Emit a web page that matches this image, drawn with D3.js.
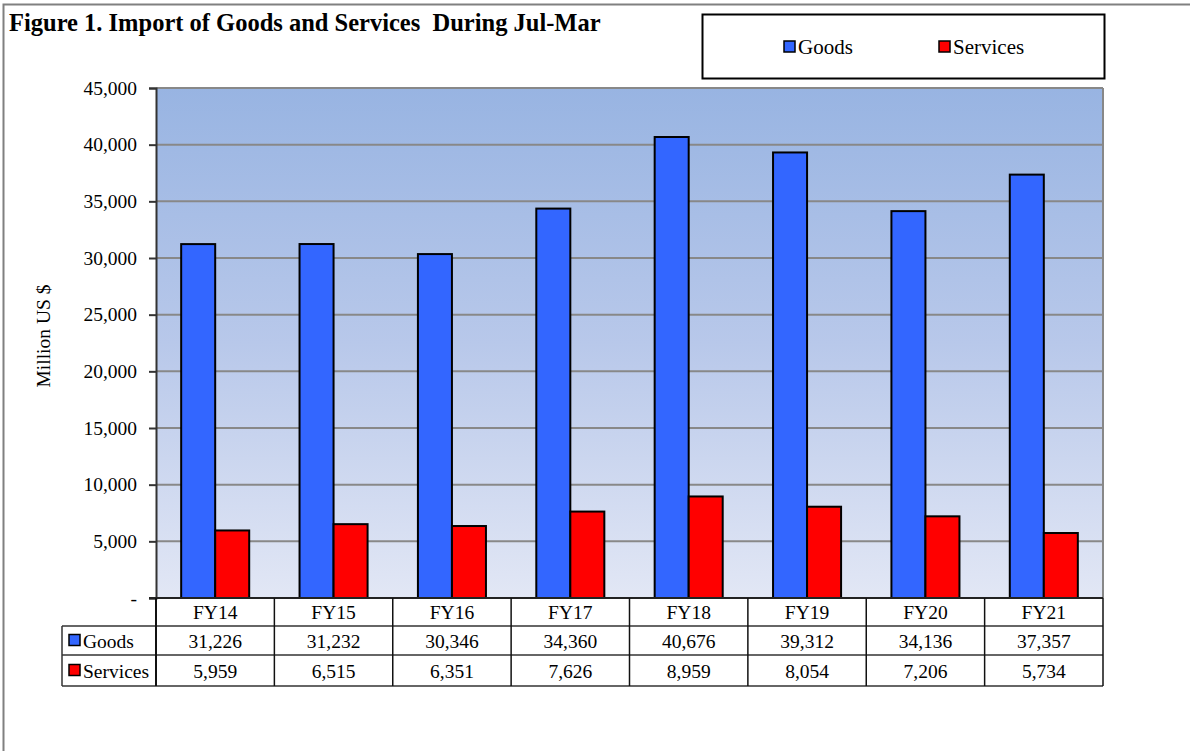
<!doctype html>
<html>
  <head>
    <meta charset="utf-8">
    <script src="https://d3js.org/d3.v7.min.js"></script>
    <style>
      body { margin: 0; background: #fff; }
      svg text { font-family: "Liberation Serif", "DejaVu Serif", serif !important; }
    </style>
  </head>
  <body>
    <script>
    // data
    var years = ["FY14", "FY15", "FY16", "FY17", "FY18", "FY19", "FY20", "FY21"];
    var goods = [31226, 31232, 30346, 34360, 40676, 39312, 34136, 37357];
    var services = [5959, 6515, 6351, 7626, 8959, 8054, 7206, 5734];
    var seriesNames = ["Goods", "Services"];
    var seriesColors = ["#3366ff", "#ff0000"];
    var yTicks = [0, 5000, 10000, 15000, 20000, 25000, 30000, 35000, 40000, 45000];

    var width = 1190;
    var height = 751;

    var plot = { left: 156, right: 1103, top: 88, bottom: 598 };
    var rowH = [28, 29, 31]; // table rows: header, goods, services
    var labelLeft = 62;
    var fs = "19.5px";

    var svg = d3.select("body")
              .append("svg")
              .attr("width", width)
              .attr("height", height)
              .attr("font-family", "Liberation Serif");

    // outer frame
    svg.append("rect")
      .attr("x", 3.5).attr("y", 4.5)
      .attr("width", width + 10).attr("height", height + 10)
      .attr("fill", "none")
      .attr("stroke", "#808080")
      .attr("stroke-width", 2);

    // title
    svg.append("text")
      .attr("x", 9).attr("y", 31)
      .attr("font-size", "24.5px")
      .attr("font-weight", "bold")
      .style("white-space", "pre")
      .text("Figure 1. Import of Goods and Services  During Jul-Mar");

    // legend box
    var leg = svg.append("g");
    leg.append("rect")
      .attr("x", 702.5).attr("y", 14.5)
      .attr("width", 402).attr("height", 64)
      .attr("fill", "#fff")
      .attr("stroke", "#000")
      .attr("stroke-width", 2);
    var legX = [784, 939];
    seriesNames.forEach(function(name, i) {
      leg.append("rect")
        .attr("x", legX[i]).attr("y", 41)
        .attr("width", 11).attr("height", 11)
        .attr("fill", seriesColors[i])
        .attr("stroke", "#000")
        .attr("stroke-width", 1.5);
      leg.append("text")
        .attr("x", legX[i] + 14).attr("y", 54)
        .attr("font-size", "21px")
        .text(name);
    });

    // scales
    var x = d3.scaleBand()
      .domain(years)
      .range([plot.left, plot.right])
      .paddingInner(0)
      .paddingOuter(0);

    // two bars of ~34px centred in each category
    var xs = d3.scaleBand()
      .domain(seriesNames)
      .range([0, x.bandwidth()])
      .paddingOuter(0.74)
      .paddingInner(0);

    var y = d3.scaleLinear()
      .domain([0, 45000])
      .range([plot.bottom, plot.top]);

    // plot background gradient
    var defs = svg.append("defs");
    var grad = defs.append("linearGradient")
      .attr("id", "bg")
      .attr("x1", 0).attr("y1", 0).attr("x2", 0).attr("y2", 1);
    grad.append("stop").attr("offset", "0%").attr("stop-color", "#98b4e2");
    grad.append("stop").attr("offset", "50%").attr("stop-color", "#b8c8ea");
    grad.append("stop").attr("offset", "100%").attr("stop-color", "#e2e7f5");

    svg.append("rect")
      .attr("x", plot.left).attr("y", plot.top)
      .attr("width", plot.right - plot.left)
      .attr("height", plot.bottom - plot.top)
      .attr("fill", "url(#bg)");

    // gridlines
    svg.append("g")
      .selectAll("line")
      .data(yTicks.filter(function(d) { return d > 0; }))
      .enter()
      .append("line")
      .attr("x1", plot.left).attr("x2", plot.right)
      .attr("y1", function(d) { return y(d); })
      .attr("y2", function(d) { return y(d); })
      .attr("stroke", "#888")
      .attr("stroke-width", 2);

    // plot border (right side)
    svg.append("line")
      .attr("x1", plot.right).attr("x2", plot.right)
      .attr("y1", plot.top).attr("y2", plot.bottom)
      .attr("stroke", "#888").attr("stroke-width", 2);

    // bars
    var rows = years.map(function(yr, i) {
      return { year: yr, vals: [goods[i], services[i]] };
    });

    var groups = svg.append("g")
      .selectAll("g")
      .data(rows)
      .enter()
      .append("g")
      .attr("transform", function(d) { return "translate(" + x(d.year) + ",0)"; });

    groups.selectAll("rect")
      .data(function(d) {
        return d.vals.map(function(v, j) { return { key: seriesNames[j], value: v, color: seriesColors[j] }; });
      })
      .enter()
      .append("rect")
      .attr("x", function(d) { return xs(d.key); })
      .attr("width", xs.bandwidth())
      .attr("y", function(d) { return y(d.value); })
      .attr("height", function(d) { return plot.bottom - y(d.value); })
      .attr("fill", function(d) { return d.color; })
      .attr("stroke", "#000")
      .attr("stroke-width", 2);

    // y axis
    var yAxis = d3.axisLeft(y)
      .tickValues(yTicks)
      .tickSize(7)
      .tickPadding(12)
      .tickFormat(function(d) { return d === 0 ? "-" : d3.format(",")(d); });

    var ya = svg.append("g")
      .attr("transform", "translate(" + plot.left + ",0)")
      .call(yAxis)
      .attr("font-family", "Liberation Serif")
      .attr("font-size", fs);
    ya.select(".domain").attr("stroke", "#333").attr("stroke-width", 2);
    ya.selectAll(".tick line").attr("stroke", "#333").attr("stroke-width", 2);
    ya.selectAll(".tick text").attr("fill", "#000");

    // baseline
    svg.append("line")
      .attr("x1", plot.left - 7).attr("x2", plot.right)
      .attr("y1", plot.bottom).attr("y2", plot.bottom)
      .attr("stroke", "#222").attr("stroke-width", 2);

    // y axis label
    svg.append("text")
      .attr("transform", "translate(50," + ((plot.top + plot.bottom) / 2 - 7) + ") rotate(-90)")
      .attr("text-anchor", "middle")
      .attr("font-size", fs)
      .text("Million US $");

    // data table
    var t0 = plot.bottom;
    var t1 = t0 + rowH[0];
    var t2 = t1 + rowH[1];
    var t3 = t2 + rowH[2];
    var tbl = svg.append("g");
    var lineColor = "#333";

    // horizontal lines
    [t1, t2, t3].forEach(function(yy) {
      tbl.append("line")
        .attr("x1", labelLeft).attr("x2", plot.right)
        .attr("y1", yy).attr("y2", yy)
        .attr("stroke", lineColor).attr("stroke-width", 1.5);
    });
    // vertical lines
    tbl.append("line")
      .attr("x1", labelLeft).attr("x2", labelLeft)
      .attr("y1", t1).attr("y2", t3)
      .attr("stroke", lineColor).attr("stroke-width", 1.5);
    tbl.selectAll("line.col")
      .data(years.map(function(d) { return x(d); }).concat([plot.right]))
      .enter()
      .append("line")
      .attr("class", "col")
      .attr("x1", function(d) { return d; }).attr("x2", function(d) { return d; })
      .attr("y1", t0).attr("y2", t3)
      .attr("stroke", "#111")
      .attr("stroke-width", function(d) { return d === plot.left ? 2 : 1.5; });

    // header
    tbl.selectAll("text.hdr")
      .data(years)
      .enter()
      .append("text")
      .attr("class", "hdr")
      .attr("x", function(d) { return x(d) + x.bandwidth() / 2; })
      .attr("y", t0 + 21)
      .attr("text-anchor", "middle")
      .attr("font-size", fs)
      .text(function(d) { return d; });

    // series rows
    var rowTops = [t1, t2];
    var rowHs = [rowH[1], rowH[2]];
    [goods, services].forEach(function(vals, i) {
      var cy = rowTops[i] + rowHs[i] / 2;
      tbl.append("rect")
        .attr("x", labelLeft + 7).attr("y", cy - 6)
        .attr("width", 11).attr("height", 11)
        .attr("fill", seriesColors[i])
        .attr("stroke", "#000").attr("stroke-width", 1.5);
      tbl.append("text")
        .attr("x", labelLeft + 21).attr("y", cy + 7)
        .attr("font-size", fs)
        .text(seriesNames[i]);
      tbl.selectAll("text.v" + i)
        .data(vals)
        .enter()
        .append("text")
        .attr("class", "v" + i)
        .attr("x", function(d, j) { return x(years[j]) + x.bandwidth() / 2; })
        .attr("y", cy + 7)
        .attr("text-anchor", "middle")
        .attr("font-size", fs)
        .text(function(d) { return d3.format(",")(d); });
    });
    </script>
  </body>
</html>
